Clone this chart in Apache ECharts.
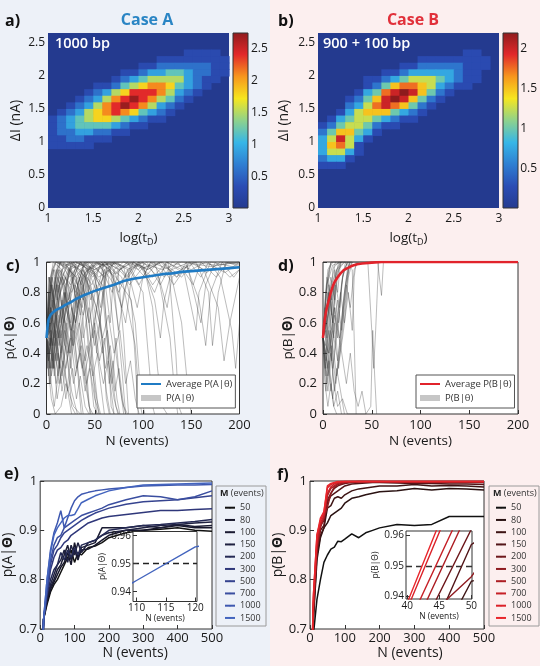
<!DOCTYPE html>
<html>
<head>
<meta charset="utf-8">
<script src="https://cdn.jsdelivr.net/npm/echarts@6/dist/echarts.min.js"></script>
<style>
html,body{margin:0;padding:0}
#c{width:540px;height:666px;background:linear-gradient(to right,#edf1f8 0,#edf1f8 270px,#fcefef 270px,#fcefef 540px)}
</style>
</head>
<body>
<div id="c"></div>
<script>
const FONT = '"Open Sans", sans-serif';

// ---- heat maps (a, b): cell centres, one digit per cell, value = digit * step
const heatCols = [1.05,1.15,1.25,1.35,1.45,1.55,1.65,1.75,1.85,1.95,2.05,2.15,2.25,2.35,2.45,2.55,2.65,2.75,2.85,2.95];
const heatRowsA = [2.35,2.25,2.15,2.05,1.95,1.85,1.75,1.65,1.55,1.45,1.35,1.25,1.15,1.05,0.95];
const heatLevelsA = [
  '00000000000000011110',
  '00000000000011111111',
  '00000000001122222211',
  '00000000112334432211',
  '00000001234555532110',
  '00000112456776432100',
  '00001235688875321000',
  '00012357898754210000',
  '00123578987532100000',
  '01235678764321000000',
  '12345665432110000000',
  '12344443211000000000',
  '12233221100000000000',
  '11221110000000000000',
  '11111000000000000000'
];
const stepA = 0.3;
const heatRowsB = [2.35,2.25,2.15,2.05,1.95,1.85,1.75,1.65,1.55,1.45,1.35,1.25,1.15,1.05,0.95,0.85,0.75,0.65];
const heatLevelsB = [
  '00000000000000001100',
  '00000000000111111110',
  '00000000011222221110',
  '00000001123333321100',
  '00000112345554321100',
  '00000124677653211000',
  '00001347898642100000',
  '00012468986421000000',
  '00023578764210000000',
  '00135666432100000000',
  '01345543211000000000',
  '12455421100000000000',
  '24664310000000000000',
  '35853100000000000000',
  '36751000000000000000',
  '35531000000000000000',
  '23310000000000000000',
  '11100000000000000000'
];
const stepB = 0.25;
const cbarMaxA = 2.75, cbarMaxB = 2.2;
const heatX = [1, 1.5, 2, 2.5, 3];
const heatY = [0, 0.5, 1, 1.5, 2, 2.5];
const cbarTicksA = [0.5, 1, 1.5, 2, 2.5];
const cbarTicksB = [0.5, 1, 1.5, 2];

// ---- c, d: single runs (N, p pairs) and their averages
const tracesA = [
  [0,.5,3,.8,6,.95,10,1,18,.97,25,1,40,.9,48,1,60,.98,70,1,85,.9,95,1,120,.95,140,1,170,.97,200,1],
  [0,.5,2,.3,5,.1,9,0,15,.05,20,.2,28,.05,35,0],
  [0,.5,4,.7,8,.4,12,.75,20,.9,30,.6,38,.85,45,.3,50,.1,55,0],
  [0,.5,3,.2,7,.5,14,.8,22,.95,30,1,45,.95,58,1,66,.2,70,0],
  [0,.5,5,.85,10,.6,16,.9,24,1,32,.7,40,.95,52,1,64,.9,72,.4,78,.1,82,0],
  [0,.5,2,.65,6,.3,10,.55,15,.2,20,.45,26,.15,32,0],
  [0,.5,4,.9,9,1,20,.98,30,1,50,.95,65,1,80,.97,92,.6,98,.1,102,0],
  [0,.5,3,.4,8,.75,13,.5,19,.8,26,.55,34,.85,42,.95,55,.6,62,.9,70,1,88,.95,100,1,110,.7,115,.3,120,.05,125,0],
  [0,.5,6,.7,12,.9,18,.65,25,.3,30,.6,38,.95,46,.75,54,.95,66,1,76,.85,90,1,105,.95,118,1,135,.9,145,1,160,.6,165,.85,175,1,190,.9,200,.95],
  [0,.5,2,.8,5,.6,9,.9,14,1,24,.9,36,1,46,.8,52,.4,57,.7,63,1,74,.95,80,.5,85,0],
  [0,.5,4,.25,8,.05,14,.35,20,.6,28,.85,34,.5,40,.2,46,0],
  [0,.5,5,.6,10,.8,15,.95,22,.7,28,.9,35,1,48,.9,60,1,72,.92,84,1,96,.85,108,1,128,.95,140,.6,146,.2,150,0],
  [0,.5,3,.75,7,.95,12,.8,18,1,30,.9,42,1,55,.85,68,1,82,.9,95,1,112,.8,124,1,140,.95,155,1,168,.8,172,.45,178,.8,186,1,200,.97],
  [0,.5,4,.45,9,.7,15,.4,20,.7,27,.9,33,.65,40,.3,44,.05,48,0],
  [0,.5,6,.8,11,.65,17,.9,23,.75,31,1,44,.95,54,1,68,.8,76,.95,88,1,102,.9,116,1,132,.85,148,1,163,.95,178,.7,184,.35,190,.6,200,.9],
  [0,.5,3,.6,6,.9,11,.75,16,.95,26,.8,36,.95,44,.6,50,.25,54,0],
  [0,.5,2,.35,5,.55,9,.35,13,.6,19,.85,25,.6,31,.8,39,1,50,.9,58,.5,62,.1,65,0],
  [0,.5,5,.9,10,1,22,.95,34,1,48,.92,60,1,78,.9,92,.45,96,.1,99,0],
  [0,.5,4,.7,8,.55,12,.85,17,.65,23,.95,30,.8,37,.95,47,.85,57,1,70,.9,82,.6,88,.9,96,1,110,.85,126,1,134,.4,137,.05,140,0],
  [0,.5,3,.3,6,.6,10,.85,16,.6,22,.35,26,.05,30,0],
  [0,.5,6,.75,12,.95,20,.85,28,1,40,.9,52,1,66,.95,75,.55,80,.8,90,1,104,.95,120,1,135,.9,150,1,175,.98,200,1],
  [0,.5,4,.85,9,.7,14,1,26,.95,38,.75,46,.95,58,.85,64,.5,68,.2,72,.5,76,.2,80,0],
  [0,.5,2,.7,6,.45,10,.7,15,.9,21,.7,27,.45,33,.7,40,.9,52,.7,60,.95,74,1,86,.85,98,.95,112,1,125,.7,130,.9,145,.98,158,.75,165,.45,170,.8,182,1,194,.9,200,.95],
  [0,.5,5,.3,9,.6,13,.85,18,.6,24,.8,30,.45,35,.15,38,0],
  [0,.5,3,.85,7,1,16,.95,28,1,36,.85,42,.95,56,1,70,.92,84,1,100,.97,112,.75,118,.5,122,.75,130,.95,148,1,160,.9,168,1,180,.9,192,.55,196,.3,200,.6],
  [0,.5,4,.6,8,.3,12,.5,16,.75,22,.5,28,.2,34,.4,40,.75,48,.95,58,.8,64,.4,67,.05,70,0],
  [0,.5,3,.9,8,.75,13,.95,25,.85,35,1,50,.95,62,1,75,.8,84,.95,100,1,116,.9,128,.5,132,.2,136,0],
  [0,.5,6,.65,12,.45,18,.7,24,.95,32,.85,40,1,54,.9,66,.95,78,.7,86,.95,100,.8,106,.35,110,.05,112,0],
  [0,.5,2,.9,7,.8,12,1,24,.95,40,1,60,.98,80,1,100,.96,120,1,140,.9,152,1,166,.93,180,1,200,.99],
  [0,.5,4,.55,10,.2,16,.45,22,.15,26,0],
  [0,.5,1,.3,3,.6,5,.9,8,.7,11,.95,15,1,30,.96,44,1,60,.9,66,.6,70,.95,80,1,95,.95,104,1,118,.85,130,1,150,.95,165,1,185,.93,200,1],
  [0,.5,2,.55,4,.2,7,.4,11,.1,16,.3,21,.6,25,.4,29,.7,34,.9,40,.7,46,.35,50,.55,56,.2,60,0],
  [0,.5,3,.7,6,.85,9,.55,13,.3,17,.55,23,.85,29,.95,37,.7,42,.9,48,.5,53,.75,60,.95,70,.85,78,.3,82,0],
  [0,.5,2,.4,5,.7,8,.5,12,.65,16,.35,20,.1,24,.3,28,.55,32,.3,36,0],
  [0,.5,4,.8,8,.95,14,.85,22,1,34,.95,46,1,60,.9,70,1,84,.95,94,.7,100,.9,108,1,122,.9,136,1,152,.85,160,1,176,.9,188,1,200,.98],
  [0,.5,3,.45,6,.75,10,.45,14,.7,19,.45,24,.75,30,.6,36,.9,44,.6,52,.85,58,.45,62,.15,66,0],
  [0,.5,5,.7,9,.9,14,.6,19,.8,26,1,36,.9,48,.98,56,.7,62,.95,72,.9,88,.75,92,.35,95,0],
  [0,.5,2,.25,4,.5,7,.3,10,.6,14,.45,18,.75,23,.95,31,.9,38,.6,42,.25,45,0],
  [0,.5,3,.9,6,.7,10,.95,17,.85,24,.95,35,.75,43,.95,52,.8,60,1,76,.95,90,1,110,.9,125,1,143,.92,155,.55,158,.8,170,1,200,.96],
  [0,.5,4,.3,8,.55,12,.25,16,.5,20,.8,25,.55,30,.85,35,.65,40,.9,45,.55,49,.2,52,0],
  [0,.5,2,.35,5,.5,8,.25,12,.4,16,.15,21,.35,26,.55,31,.3,36,.45,41,.2,46,.35,52,.1,56,0],
  [0,.5,3,.6,6,.35,10,.5,14,.3,19,.55,24,.4,29,.65,34,.45,39,.25,44,.4,50,.6,55,.35,60,.5,65,.2,69,.35,73,.1,76,0],
  [0,.5,2,.45,5,.25,9,.4,13,.2,17,.35,22,.15,27,.3,31,.1,35,.25,40,.05,44,0],
  [0,.5,4,.55,8,.7,12,.5,17,.65,22,.4,27,.6,33,.75,38,.5,44,.7,50,.45,55,.6,61,.3,66,.45,71,.15,75,.3,80,.05,84,0],
  [0,.5,3,.4,7,.6,11,.35,15,.55,20,.3,25,.5,30,.25,35,.4,40,.15,45,.3,49,.05,53,0],
  [0,.5,2,.6,6,.45,10,.65,15,.5,20,.7,26,.55,32,.8,38,.65,45,.85,52,.6,58,.4,63,.55,68,.25,72,.05,75,0],
  [0,.5,3,.5,7,.3,11,.45,16,.25,21,.5,26,.7,31,.5,37,.3,42,.45,48,.25,53,.4,59,.2,64,.35,70,.1,74,0],
  [0,.5,4,.65,8,.45,13,.6,18,.8,23,.6,28,.45,34,.6,40,.35,46,.5,52,.7,58,.5,64,.65,70,.4,76,.55,82,.2,87,.35,92,.1,96,0]
];
const tracesB = [
  [0,.5,3,.8,6,.95,10,1,30,1],
  [0,.5,2,.3,5,.6,8,.85,12,.97,16,1,30,1],
  [0,.5,4,.35,8,.15,12,.4,16,.7,20,.9,25,1],
  [0,.5,3,.65,6,.4,9,.7,13,.9,18,1],
  [0,.5,2,.2,5,.05,8,.2,11,.05,14,0],
  [0,.5,5,.75,9,.55,13,.85,17,.7,21,.95,26,1],
  [0,.5,3,.4,7,.6,10,.3,14,.55,18,.8,22,.6,26,.9,30,1],
  [0,.5,4,.85,8,1,20,1],
  [0,.5,2,.6,5,.25,9,.45,13,.2,17,.45,21,.75,25,.95,28,1],
  [0,.5,3,.15,6,.35,10,.1,14,.3,18,.15,22,0],
  [0,.5,4,.7,8,.9,12,.75,16,.95,22,1],
  [0,.5,2,.45,6,.8,10,.6,14,.9,19,1],
  [0,.5,5,.3,10,.55,15,.35,20,.65,24,.85,28,.7,32,.95,36,1],
  [0,.5,3,.55,7,.25,11,.05,15,.15,19,0],
  [0,.5,4,.6,8,.8,11,.5,15,.75,19,.55,23,.85,27,1],
  [0,.5,2,.75,5,.95,9,1],
  [0,.5,6,.4,12,.65,18,.45,24,.2,28,.4,32,.15,36,.05,40,.15,44,0],
  [0,.5,3,.25,7,.45,12,.7,17,.5,22,.8,26,.95,30,1],
  [0,.5,4,.9,9,.75,14,.95,18,1],
  [0,.5,5,.65,11,.85,16,.6,20,.9,25,1],
  [0,.5,3,.35,8,.55,14,.25,20,.5,26,.8,30,.55,32,.9,34,1],
  [0,.5,6,.8,14,.95,22,1,30,.95,32,.5,34,0],
  [0,.5,4,.85,10,.98,20,1,46,1,50,.55,52,.3,54,.55,57,1],
  [0,.5,3,.7,7,.5,11,.2,15,.05,20,.1,25,0,44,0,49,.05,51,.55,53,.25,55,0],
  [0,.5,4,.8,8,1,56,1,60,.78,62,1],
  [0,.5,2,.7,4,.5,7,.8,10,.6,13,.9,16,1],
  [0,.5,3,.3,6,.55,9,.35,12,.7,15,.5,19,.85,23,1],
  [0,.5,2,.55,5,.8,7,.6,10,.95,13,1],
  [0,.5,4,.2,8,.4,12,.15,16,.35,20,.6,24,.85,28,1],
  [0,.5,3,.6,6,.85,9,.65,12,.95,15,.8,18,1],
  [0,.5,2,.35,5,.15,8,.35,12,.6,16,.3,20,.55,24,.8,27,1]
];
const avgA = [[0,.5],[1,.57],[2,.62],[4,.65],[7,.67],[10,.685],[15,.7],[20,.72],[25,.735],[30,.755],[35,.77],[40,.785],[50,.81],[60,.83],[70,.85],[80,.875],[90,.89],[100,.9],[110,.91],[120,.92],[130,.925],[140,.935],[150,.94],[160,.945],[170,.95],[180,.955],[190,.96],[200,.965]];
const avgB = [[0,.5],[1,.58],[2,.63],[3,.67],[4,.7],[6,.75],[8,.8],[10,.84],[12,.87],[15,.9],[18,.925],[21,.945],[25,.96],[30,.975],[35,.985],[40,.99],[50,.996],[60,1],[200,1]];
const cdX = [0, 50, 100, 150, 200];
const cdY = [0, 0.2, 0.4, 0.6, 0.8, 1];

// ---- e, f: mean posterior vs N for each training size M
const Ms = [50, 80, 100, 150, 200, 300, 500, 700, 1000, 1500];
const eN = [0,10,20,30,40,50,60,70,80,90,100,110,120,140,160,180,200,250,300,350,400,450,500];
const eP50   = [.5,.72,.75,.775,.79,.80,.815,.83,.845,.86,.835,.855,.85,.865,.868,.875,.885,.895,.9,.902,.905,.9,.898];
const eP80   = [.5,.72,.755,.78,.795,.81,.825,.835,.855,.83,.875,.845,.86,.862,.87,.88,.89,.9,.9,.905,.91,.905,.905];
const eP100  = [.5,.72,.76,.785,.80,.82,.83,.85,.87,.84,.86,.84,.865,.87,.875,.905,.905,.905,.91,.905,.912,.908,.91];
const eP150  = [.5,.72,.765,.79,.81,.83,.84,.86,.835,.87,.85,.875,.855,.875,.88,.89,.895,.9,.905,.91,.912,.915,.917];
const eP200  = [.5,.72,.77,.80,.82,.83,.855,.84,.86,.845,.865,.85,.87,.875,.88,.89,.9,.905,.91,.912,.915,.918,.922];
const eP300  = [.5,.72,.77,.82,.845,.86,.865,.875,.88,.89,.895,.9,.905,.915,.92,.925,.928,.932,.936,.94,.94,.942,.944];
const eP500  = [.5,.72,.78,.83,.86,.87,.885,.895,.9,.905,.91,.915,.92,.928,.935,.94,.945,.953,.958,.96,.962,.966,.97];
const eP700  = [.5,.72,.78,.84,.87,.885,.89,.905,.91,.915,.92,.925,.93,.935,.94,.945,.952,.962,.97,.968,.962,.968,.98];
const eP1000 = [.5,.72,.80,.86,.895,.915,.94,.905,.925,.945,.96,.968,.973,.977,.98,.982,.984,.987,.99,.991,.992,.992,.993];
const eP1500 = [.5,.72,.80,.855,.89,.905,.915,.925,.93,.93,.932,.944,.956,.963,.97,.975,.98,.987,.992,.993,.994,.995,.996];
const fN = [0,10,20,30,40,50,60,70,80,90,100,120,140,160,180,200,250,300,350,400,450,500];
const fP50   = [.5,.69,.76,.80,.835,.85,.862,.866,.878,.877,.882,.893,.885,.895,.9,.905,.912,.91,.912,.928,.928,.928];
const fP80   = [.5,.72,.84,.885,.905,.915,.93,.935,.94,.945,.955,.965,.968,.972,.975,.978,.98,.985,.982,.985,.984,.982];
const fP100  = [.5,.73,.85,.89,.905,.945,.95,.965,.968,.965,.972,.98,.984,.986,.988,.99,.99,.993,.99,.991,.99,.988];
const fP150  = [.5,.74,.86,.9,.91,.957,.97,.975,.98,.985,.99,.994,.995,.996,.997,.997,.996,.995,.995,.994,.994,.993];
const fP200  = [.5,.75,.87,.91,.92,.962,.975,.985,.99,.993,.995,.997,.998,.998,.998,.998,.998,.997,.997,.997,.997,.997];
const fP300  = [.5,.74,.86,.905,.927,.9465,.975,.988,.993,.995,.997,.998,.999,.999,.999,.999,.998,.998,.998,.998,.998,.998];
const fP500  = [.5,.75,.87,.91,.925,.97,.985,.99,.995,.997,.998,.999,.999,.999,.999,.999,.999,.999,.999,.999,.999,.999];
const fP700  = [.5,.76,.88,.915,.93,.975,.988,.994,.997,.998,.999,.999,.999,.999,.999,.999,.999,.999,.999,.999,.999,.999];
const fP1000 = [.5,.77,.89,.92,.936,.986,.993,.996,.998,.999,.999,.999,.999,.999,.999,.999,.999,.999,.999,.999,.999,.999];
const fP1500 = [.5,.77,.89,.925,.938,.99,.995,.997,.999,.999,.999,.999,.999,.999,.999,.999,.999,.999,.999,.999,.999,.999];
const eP = [eP50, eP80, eP100, eP150, eP200, eP300, eP500, eP700, eP1000, eP1500];
const fP = [fP50, fP80, fP100, fP150, fP200, fP300, fP500, fP700, fP1000, fP1500];
const efX = [0, 100, 200, 300, 400, 500];
const efY = [0.7, 0.8, 0.9, 1];
const insetEX = [110, 115, 120];
const insetFX = [40, 45, 50];
const insetY = [0.94, 0.95, 0.96];
const threshold = 0.95;

const jet = ['#243a8f','#2b4cb4','#2f7ed2','#36b6e7','#8ed28c','#f6e61f','#f7961d','#e2282a','#8e1b1d'];
const colorsE = ['#111111','#16162a','#1b1c33','#1f2140','#252a55','#2f377a','#35438f','#3a4ea0','#3e58b0','#4364be'];
const colorsF = ['#111111','#2a1212','#3d1414','#521518','#6e181c','#8f1b20','#ad1e24','#c62027','#db2229','#e8262c'];
const INK = '#1a1a1a';

function heatData(rowsY, levels, step) {
  const out = [];
  levels.forEach((row, r) => {
    for (let c = 0; c < row.length; c++) {
      const d = +row[c];
      if (d > 0) out.push([heatCols[c], rowsY[r], d * step]);
    }
  });
  return out;
}
function cellItem(params, api) {
  const x = api.value(0), y = api.value(1);
  const a = api.coord([x - 0.05, y + 0.05]);
  const b = api.coord([x + 0.05, y - 0.05]);
  return {type: 'rect', shape: {x: a[0], y: a[1], width: b[0] - a[0] + 0.6, height: b[1] - a[1] + 0.6},
    style: {fill: api.visual('color')}};
}

function axis(gi, min, max, ticks, o) {
  o = o || {};
  return {
    gridIndex: gi, type: 'value', min: min, max: max, position: o.position, show: o.show !== false, z: o.z,
    axisLine: {show: false}, splitLine: {show: false},
    axisTick: {show: !!o.tick, inside: true, length: 4, customValues: ticks, lineStyle: {color: '#333'}},
    axisLabel: {customValues: ticks, color: INK, fontSize: o.fs || 13, margin: o.margin == null ? 4 : o.margin, fontFamily: FONT},
    name: o.name, nameLocation: 'middle', nameGap: o.gap, nameTextStyle: o.nameStyle
  };
}
function pName(fs, bold) {
  return {fontFamily: FONT, fontSize: fs, color: INK,
    rich: {a: {fontFamily: FONT, fontSize: fs, color: INK},
           b: {fontFamily: FONT, fontSize: fs, color: INK, fontWeight: bold ? 'bold' : 'normal'}}};
}
const logName = {fontFamily: FONT, fontSize: 13.5, color: INK,
  rich: {a: {fontFamily: FONT, fontSize: 13.5, color: INK, lineHeight: 18},
         s: {fontFamily: FONT, fontSize: 9, color: INK, lineHeight: 9, verticalAlign: 'bottom'}}};
const plainName = (fs, pad) => ({fontFamily: FONT, fontSize: fs, color: INK, padding: pad});

function traceSeries(list, gi, name) {
  return list.map(t => {
    const pts = [];
    for (let i = 0; i < t.length; i += 2) pts.push([t[i], t[i + 1]]);
    return {type: 'line', name: name, xAxisIndex: gi, yAxisIndex: gi, data: pts, symbol: 'none',
      color: 'rgba(60,60,60,0.34)', lineStyle: {width: 1}, z: 2, silent: true};
  });
}
function mSeries(prefix, gi, Ns, Ps, colors, z, width) {
  return Ms.map((m, i) => ({type: 'line', name: prefix + m, xAxisIndex: gi, yAxisIndex: gi,
    data: Ns.map((n, j) => [n, Ps[i][j]]), symbol: 'none', color: colors[i],
    lineStyle: {width: width}, z: z, silent: true}));
}

const box = {show: true, backgroundColor: '#fff', borderColor: '#333', borderWidth: 1};
const grids = [
  {left: 48, top: 33, width: 181, height: 175, show: true, backgroundColor: jet[0], borderWidth: 0},
  {left: 233, top: 33, width: 15, height: 175},
  {left: 318, top: 33, width: 181, height: 175, show: true, backgroundColor: jet[0], borderWidth: 0},
  {left: 503, top: 33, width: 15, height: 175},
  Object.assign({left: 46.5, top: 262, width: 193, height: 152}, box),
  Object.assign({left: 323, top: 262, width: 195, height: 152}, box),
  Object.assign({left: 36, top: 481, width: 176, height: 148}, box),
  Object.assign({left: 133, top: 531.5, width: 64, height: 70, z: 5}, box),
  Object.assign({left: 310, top: 481, width: 174, height: 148}, box),
  Object.assign({left: 406, top: 531, width: 66, height: 68, z: 5}, box)
];

const xAxes = [
  axis(0, 1, 3, heatX, {fs: 12, margin: 5, name: '{a|log(t}{s|D}{a|)}', gap: 21, nameStyle: logName}),
  axis(1, 0, 1, [], {show: false}),
  axis(2, 1, 3, heatX, {fs: 12, margin: 5, name: '{a|log(t}{s|D}{a|)}', gap: 21, nameStyle: logName}),
  axis(3, 0, 1, [], {show: false}),
  axis(4, 0, 200, cdX, {tick: true, margin: 5, name: 'N (events)', gap: 20, nameStyle: plainName(13.5, [0, 12, 0, 0])}),
  axis(5, 0, 200, cdX, {tick: true, margin: 5, name: 'N (events)', gap: 20, nameStyle: plainName(13.5)}),
  axis(6, 0, 500, efX, {tick: true, margin: 3, name: 'N (events)', gap: 11, nameStyle: plainName(14, [0, 0, 0, 18])}),
  axis(7, 109.4, 120.3, insetEX, {tick: true, fs: 10, margin: 2, z: 6, name: 'N (events)', gap: 11, nameStyle: plainName(8.5)}),
  axis(8, 0, 500, efX, {tick: true, margin: 3, name: 'N (events)', gap: 11, nameStyle: plainName(14, [0, 0, 0, 26])}),
  axis(9, 39.8, 50.1, insetFX, {tick: true, fs: 10, margin: 2, z: 6, name: 'N (events)', gap: 11, nameStyle: plainName(8.5)})
];
const yAxes = [
  axis(0, 0, 2.65, heatY, {fs: 12, margin: 3, name: 'ΔI (nA)', gap: 25, nameStyle: plainName(14)}),
  axis(1, 0, cbarMaxA, cbarTicksA, {fs: 12, margin: 3, position: 'right'}),
  axis(2, 0, 2.65, heatY, {fs: 12, margin: 3, name: 'ΔI (nA)', gap: 27, nameStyle: plainName(14)}),
  axis(3, 0, cbarMaxB, cbarTicksB, {fs: 12, margin: 3, position: 'right'}),
  axis(4, 0, 1, cdY, {tick: true, margin: 6, name: '{a|p(A|}{b|Θ}{a|)}', gap: 29, nameStyle: pName(13.5, true)}),
  axis(5, 0, 1, cdY, {tick: true, margin: 6, name: '{a|p(B|}{b|Θ}{a|)}', gap: 25, nameStyle: pName(13.5, true)}),
  axis(6, 0.7, 1, efY, {tick: true, margin: 3, name: '{a|p(A|}{b|Θ}{a|)}', gap: 18, nameStyle: pName(14, true)}),
  axis(7, 0.9365, 0.9615, insetY, {tick: true, fs: 10, margin: 2, z: 6, name: '{a|p(A|}{b|Θ}{a|)}', gap: 25, nameStyle: pName(8.5, false)}),
  axis(8, 0.7, 1, efY, {tick: true, margin: 3, name: '{a|p(B|}{b|Θ}{a|)}', gap: 20, nameStyle: pName(14, true)}),
  axis(9, 0.9392, 0.9614, insetY, {tick: true, fs: 10, margin: 2, z: 6, name: '{a|p(B|}{b|Θ}{a|)}', gap: 22, nameStyle: pName(8.5, false)})
];

const series = [
  {type: 'custom', xAxisIndex: 0, yAxisIndex: 0, renderItem: cellItem, data: heatData(heatRowsA, heatLevelsA, stepA), silent: true},
  {type: 'custom', xAxisIndex: 2, yAxisIndex: 2, renderItem: cellItem, data: heatData(heatRowsB, heatLevelsB, stepB), silent: true}
];
series.push(...traceSeries(tracesA, 4, 'P(A|θ)'));
series.push({type: 'line', name: 'Average P(A|θ)', xAxisIndex: 4, yAxisIndex: 4, data: avgA, symbol: 'none', color: '#1f7bc4', lineStyle: {width: 2.6}, z: 3, silent: true});
series.push(...traceSeries(tracesB, 5, 'P(B|θ)'));
series.push({type: 'line', name: 'Average P(B|θ)', xAxisIndex: 5, yAxisIndex: 5, data: avgB, symbol: 'none', color: '#e1232b', lineStyle: {width: 2.6}, z: 3, silent: true});
series.push(...mSeries('e', 6, eN, eP, colorsE, 2, 1.5));
const insetE = mSeries('e', 7, eN, eP, colorsE, 7, 1.4);
insetE[0].markLine = {silent: true, symbol: 'none', label: {show: false}, data: [{yAxis: threshold}],
  lineStyle: {type: [6, 4], color: '#222', width: 1.4}, animation: false};
series.push(...insetE);
series.push(...mSeries('f', 8, fN, fP, colorsF, 2, 1.5));
const insetF = mSeries('f', 9, fN, fP, colorsF, 7, 1.4);
insetF[0].markLine = {silent: true, symbol: 'none', label: {show: false}, data: [{yAxis: threshold}],
  lineStyle: {type: [6, 4], color: '#333', width: 1.4}, animation: false};
series.push(...insetF);

function lgAvg(left, avgName, runName) {
  return {left: left, top: 375, orient: 'vertical', selectedMode: false, padding: [3, 3, 4, 3], itemGap: 2,
    itemWidth: 20, itemHeight: 6, backgroundColor: '#fff', borderColor: '#555', borderWidth: 1,
    textStyle: {fontFamily: FONT, fontSize: 9.5, color: '#333', lineHeight: 12},
    data: [{name: avgName, itemStyle: {opacity: 0}},
           {name: runName, icon: 'rect', itemStyle: {color: '#c6c6c6', opacity: 1}}]};
}
function lgM(left, prefix) {
  return {left: left, top: 501.7, orient: 'vertical', selectedMode: false, padding: 0, itemGap: 0.25,
    itemWidth: 10, itemHeight: 2, lineStyle: {width: 2},
    textStyle: {fontFamily: FONT, fontSize: 9, color: '#333', lineHeight: 12},
    formatter: n => n.slice(1), data: Ms.map(m => prefix + m)};
}

function txt(x, y, text, size, weight, fill, align) {
  return {type: 'text', x: x, y: y, z: 20, silent: true,
    style: {text: text, fontFamily: FONT, fontSize: size, fontWeight: weight, fill: fill,
      align: align || 'left', verticalAlign: 'middle', textAlign: align || 'left', textVerticalAlign: 'middle'}};
}
function mTitle(x) {
  return {type: 'text', x: x, y: 493, z: 20, silent: true,
    style: {text: '{b|M} (events)', fontFamily: FONT, fontSize: 9, fill: '#333', verticalAlign: 'middle', textVerticalAlign: 'middle',
      rich: {b: {fontFamily: FONT, fontSize: 9, fontWeight: 'bold', fill: '#222', color: '#222'}}}};
}
const jetStops = jet.map((c, i) => ({offset: i / (jet.length - 1), color: c}));
const cbar = (x) => ({type: 'rect', z: 15, silent: true, shape: {x: x, y: 33, width: 15, height: 175},
  style: {fill: new echarts.graphic.LinearGradient(0, 1, 0, 0, jetStops), stroke: '#333', lineWidth: 1}});

const chart = echarts.init(document.getElementById('c'));
chart.setOption({
  animation: false,
  backgroundColor: 'transparent',
  textStyle: {fontFamily: FONT},
  grid: grids,
  xAxis: xAxes,
  yAxis: yAxes,
  visualMap: [
    {show: false, seriesIndex: 0, dimension: 2, min: 0, max: cbarMaxA, inRange: {color: jet}},
    {show: false, seriesIndex: 1, dimension: 2, min: 0, max: cbarMaxB, inRange: {color: jet}}
  ],
  legend: [lgAvg(137, 'Average P(A|θ)', 'P(A|θ)'), lgAvg(416, 'Average P(B|θ)', 'P(B|θ)'), lgM(224, 'e'), lgM(495, 'f')],
  graphic: {elements: [
    cbar(233), cbar(503),
    txt(5, 21, 'a)', 16, 'bold', '#111'),
    txt(278, 21, 'b)', 16, 'bold', '#111'),
    txt(6, 266, 'c)', 16, 'bold', '#111'),
    txt(278, 266, 'd)', 16, 'bold', '#111'),
    txt(4, 474, 'e)', 16, 'bold', '#111'),
    txt(277, 475, 'f)', 16, 'bold', '#111'),
    txt(147, 20, 'Case A', 16, 'bold', '#2a85c4', 'center'),
    txt(413, 20, 'Case B', 16, 'bold', '#e1303a', 'center'),
    txt(55, 44, '1000 bp', 14.5, 600, '#fff'),
    txt(323, 44, '900 + 100 bp', 14.5, 600, '#fff'),
    {type: 'rect', z: 1, silent: true, shape: {x: 216, y: 486, width: 50, height: 140}, style: {fill: 'none', stroke: '#9a9a9a', lineWidth: 1}},
    {type: 'rect', z: 1, silent: true, shape: {x: 489, y: 486, width: 50, height: 140}, style: {fill: 'none', stroke: '#9a9a9a', lineWidth: 1}},
    mTitle(220), mTitle(493)
  ]},
  series: series
});
</script>
</body>
</html>
